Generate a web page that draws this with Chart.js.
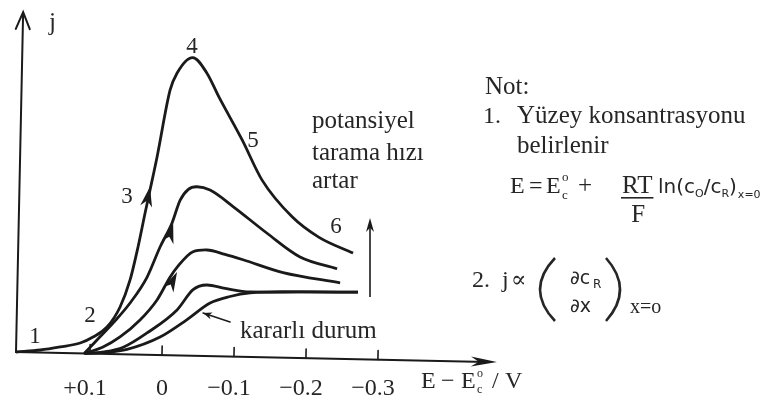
<!DOCTYPE html>
<html>
<head>
<meta charset="utf-8">
<script src="https://cdn.jsdelivr.net/npm/chart.js@4.4.0/dist/chart.umd.min.js"></script>
<style>
  html, body { margin: 0; padding: 0; background: #fff; }
  #plot { display: block; }
</style>
</head>
<body>
<canvas id="plot" width="767" height="405"></canvas>
<script>
// E - E0 (V) and current j for each sweep, fastest scan first, steady state last
var e1 = [0.2028, 0.169, 0.1415, 0.1139, 0.0963, 0.0771, 0.0596, 0.0465, 0.0364, 0.0276, 0.0214, 0.0126, -0.0035, -0.0126, -0.034, -0.054, -0.0717, -0.1049, -0.1339, -0.1767, -0.2147, -0.2624];
var j1 = [0, 0.025, 0.06, 0.103, 0.166, 0.269, 0.472, 0.744, 1.076, 1.417, 1.648, 1.98, 2.65, 2.82, 2.98, 2.83, 2.59, 2.17, 1.77, 1.41, 1.21, 1.06];

var e2 = [0.108, 0.0907, 0.0689, 0.0458, 0.0229, 0.0058, -0.0101, -0.0206, -0.0314, -0.0438, -0.0619, -0.0944, -0.1424, -0.1889, -0.2407];
var j2 = [0, 0.137, 0.31, 0.514, 0.777, 1.08, 1.323, 1.55, 1.66, 1.69, 1.66, 1.50, 1.24, 1.01, 0.90];

var e3 = [0.108, 0.0821, 0.0588, 0.0315, 0.0085, -0.0089, -0.0183, -0.0401, -0.0596, -0.0846, -0.1099, -0.1657, -0.2453];
var j3 = [0, 0.068, 0.172, 0.346, 0.55, 0.78, 0.88, 1.04, 1.06, 1.02, 0.97, 0.85, 0.76];

var e4 = [0.108, 0.08, 0.054, 0.0214, -0.0196, -0.0413, -0.0606, -0.0858, -0.1206, -0.1899, -0.2704];
var j4 = [0, 0.02, 0.07, 0.218, 0.454, 0.66, 0.71, 0.68, 0.65, 0.66, 0.67];

var eSteady = [0.108, 0.08, 0.0488, 0.0032, -0.0338, -0.0653, -0.0928, -0.1206, -0.1899, -0.2704];
var jSteady = [0, 0.015, 0.05, 0.18, 0.36, 0.53, 0.60, 0.64, 0.66, 0.67];

var tickValues = [0.1, 0, -0.1, -0.2, -0.3];
var tickLabels = ['+0.1', '0', '\u22120.1', '\u22120.2', '\u22120.3'];

var TILT = 0.021;   // the drawn figure sits a little rotated on the page
var INK = '#1a1a1a';
var TEXT = '#262626';
var SERIF = '"Liberation Serif", "DejaVu Serif", serif';
var SANS = '"DejaVu Sans", "Noto Sans", sans-serif';

function toPoints(es, js) {
  return es.map(function (e, i) { return { x: e, y: js[i] }; });
}

function curve(es, js) {
  return {
    data: toPoints(es, js),
    borderColor: INK,
    borderWidth: 2.8,
    pointRadius: 0,
    cubicInterpolationMode: 'monotone',
    clip: false
  };
}

// filled head pointing from (x1,y1) to (x2,y2)
function head(ctx, x1, y1, x2, y2, len, half) {
  var a = Math.atan2(y2 - y1, x2 - x1);
  ctx.beginPath();
  ctx.moveTo(x2, y2);
  ctx.lineTo(x2 - len * Math.cos(a) + half * Math.sin(a), y2 - len * Math.sin(a) - half * Math.cos(a));
  ctx.lineTo(x2 - len * 0.7 * Math.cos(a), y2 - len * 0.7 * Math.sin(a));
  ctx.lineTo(x2 - len * Math.cos(a) - half * Math.sin(a), y2 - len * Math.sin(a) + half * Math.cos(a));
  ctx.closePath();
  ctx.fill();
}

function txt(ctx, s, x, y, size, font, align) {
  ctx.font = size + 'px ' + (font || SERIF);
  ctx.textAlign = align || 'left';
  ctx.fillText(s, x, y);
  return ctx.measureText(s).width;
}

// tall thin bracket for the derivative
function paren(ctx, x, top, bottom, bulge) {
  ctx.beginPath();
  ctx.moveTo(x, top);
  ctx.quadraticCurveTo(x - bulge, (top + bottom) / 2, x, bottom);
  ctx.stroke();
}

// sweep direction marks on the rising branches: [E tail, j tail, E tip, j tip]
var flowMarks = [
  [0.0264, 1.48, 0.0215, 1.68],
  [-0.0039, 1.107, -0.0117, 1.32],
  [-0.0065, 0.652, -0.0185, 0.834]
];

var figure = {
  id: 'figure',
  beforeDatasetsDraw: function (chart) {
    var ctx = chart.ctx, a = chart.chartArea;
    ctx.save();
    ctx.translate(a.left, a.bottom);
    ctx.rotate(TILT);
    ctx.translate(-a.left, -a.bottom);
  },
  afterDatasetsDraw: function (chart) {
    var ctx = chart.ctx, a = chart.chartArea;
    var xs = chart.scales.x, ys = chart.scales.y;
    ctx.strokeStyle = INK;
    ctx.fillStyle = INK;
    ctx.lineCap = 'round';

    // axes
    ctx.lineWidth = 2;
    ctx.beginPath();
    ctx.moveTo(a.left, a.top + 2);
    ctx.lineTo(a.left, a.bottom);
    ctx.lineTo(a.right - 10, a.bottom);
    ctx.stroke();
    head(ctx, a.right - 30, a.bottom, a.right, a.bottom, 26, 5);
    ctx.beginPath();
    ctx.moveTo(a.left - 7, a.top + 17);
    ctx.lineTo(a.left, a.top);
    ctx.lineTo(a.left + 7, a.top + 17);
    ctx.stroke();

    // ticks point into the plot
    ctx.lineWidth = 1.6;
    tickValues.forEach(function (v) {
      var px = xs.getPixelForValue(v);
      ctx.beginPath();
      ctx.moveTo(px, a.bottom);
      ctx.lineTo(px, a.bottom - 9);
      ctx.stroke();
    });

    flowMarks.forEach(function (m) {
      head(ctx, xs.getPixelForValue(m[0]), ys.getPixelForValue(m[1]),
        xs.getPixelForValue(m[2]), ys.getPixelForValue(m[3]), 20, 6);
    });

    // pointer to the steady-state curve
    var p0x = xs.getPixelForValue(-0.0936), p0y = ys.getPixelForValue(0.345);
    var p1x = xs.getPixelForValue(-0.0558), p1y = ys.getPixelForValue(0.429);
    ctx.lineWidth = 1.4;
    ctx.beginPath();
    ctx.moveTo(p0x, p0y);
    ctx.lineTo(p1x, p1y);
    ctx.stroke();
    head(ctx, p0x, p0y, p1x, p1y, 9, 3.5);

    ctx.restore();
  },
  afterDraw: function (chart) {
    var ctx = chart.ctx, xs = chart.scales.x;
    ctx.save();
    ctx.fillStyle = TEXT;
    ctx.strokeStyle = TEXT;
    ctx.textBaseline = 'alphabetic';

    txt(ctx, 'j', 49, 30, 25);

    // tick labels
    tickValues.forEach(function (v, i) {
      var px = xs.getPixelForValue(v) - (v === 0 ? 0 : 5);
      txt(ctx, tickLabels[i], px, 395, 24, SERIF, 'center');
    });

    // axis title  E − E°c / V
    txt(ctx, 'E', 421, 388, 24);
    txt(ctx, '\u2212', 441, 388, 24);
    txt(ctx, 'E', 461, 388, 24);
    txt(ctx, 'o', 477, 377, 12);
    txt(ctx, 'c', 477, 393, 12);
    txt(ctx, '/', 492, 388, 24);
    txt(ctx, 'V', 505, 388, 24);

    // curve numbers
    txt(ctx, '1', 35, 343, 23, SERIF, 'center');
    txt(ctx, '2', 90, 322, 23, SERIF, 'center');
    txt(ctx, '3', 127, 203, 23, SERIF, 'center');
    txt(ctx, '4', 192, 53, 23, SERIF, 'center');
    txt(ctx, '5', 253, 147, 23, SERIF, 'center');
    txt(ctx, '6', 336, 233, 23, SERIF, 'center');

    txt(ctx, 'potansiyel', 312, 128, 25);
    txt(ctx, 'tarama h\u0131z\u0131', 312, 160, 25);
    txt(ctx, 'artar', 312, 188, 25);
    txt(ctx, 'kararl\u0131 durum', 240, 338, 25);

    // scan-rate arrow
    ctx.fillStyle = INK;
    ctx.strokeStyle = INK;
    ctx.lineWidth = 1.6;
    ctx.beginPath();
    ctx.moveTo(370, 297);
    ctx.lineTo(370, 226);
    ctx.stroke();
    head(ctx, 370, 240, 370, 218, 14, 4);
    ctx.fillStyle = TEXT;
    ctx.strokeStyle = TEXT;

    // notes
    txt(ctx, 'Not:', 485, 94, 25);
    txt(ctx, '1.', 483, 123, 24);
    txt(ctx, 'Y\u00fczey konsantrasyonu', 517, 123, 25);
    txt(ctx, 'belirlenir', 517, 153, 25);

    txt(ctx, 'E', 510, 193, 24);
    txt(ctx, '=', 529, 193, 24);
    txt(ctx, 'E', 546, 193, 24);
    txt(ctx, 'o', 562, 181, 13);
    txt(ctx, 'c', 562, 199, 13);
    txt(ctx, '+', 578, 193, 25);
    var w = txt(ctx, 'RT', 622, 193, 25);
    ctx.fillRect(621, 197, w + 2, 1.6);
    txt(ctx, 'F', 622 + w / 2 + 1, 222, 25, SERIF, 'center');
    var x = 658;
    x += txt(ctx, 'ln(c', x, 193, 20, SANS);
    x += txt(ctx, 'O', x, 197, 11, SANS);
    x += txt(ctx, '/c', x, 193, 20, SANS);
    x += txt(ctx, 'R', x, 197, 11, SANS);
    x += txt(ctx, ')', x, 193, 20, SANS);
    txt(ctx, 'x=0', x + 1, 198, 11, SANS);

    txt(ctx, '2.', 472, 287, 24);
    txt(ctx, 'j', 502, 287, 24);
    txt(ctx, '\u221d', 511, 287, 23);
    ctx.lineWidth = 2.6;
    paren(ctx, 555, 258, 321, 30);
    paren(ctx, 606, 258, 321, -28);
    txt(ctx, '\u2202c', 570, 284, 19, SANS);
    txt(ctx, 'R', 593, 288, 12, SANS);
    txt(ctx, '\u2202x', 570, 312, 19, SANS);
    txt(ctx, 'x=o', 630, 313, 20);

    ctx.restore();
  }
};

new Chart(document.getElementById('plot'), {
  type: 'line',
  data: {
    datasets: [
      curve(e1, j1),
      curve(e2, j2),
      curve(e3, j3),
      curve(e4, j4),
      curve(eSteady, jSteady)
    ]
  },
  options: {
    responsive: false,
    animation: false,
    layout: { padding: { left: 16, top: 12, right: 270, bottom: 53 } },
    plugins: { legend: { display: false }, tooltip: { enabled: false } },
    scales: {
      x: { type: 'linear', reverse: true, min: -0.4653, max: 0.2028, display: false },
      y: { type: 'linear', min: 0, max: 3.4, display: false }
    }
  },
  plugins: [figure]
});
</script>
</body>
</html>
